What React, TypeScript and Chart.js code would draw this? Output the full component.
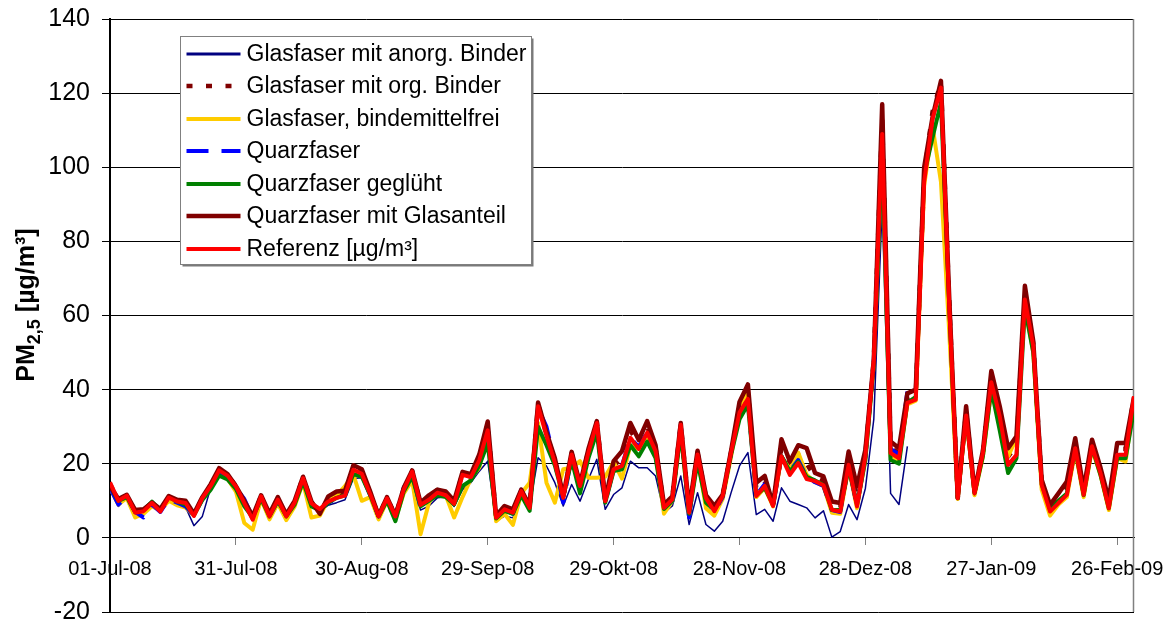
import React, { useEffect, useRef } from 'react';
import { Chart, registerables } from 'chart.js';

Chart.register(...registerables);

// ---------- data ----------
const STEP_DAYS = 2; // one sample every second day, starting 01-Jul-08
const X_MAX_DAYS = 244;
const TICK_DAYS = [0, 30, 60, 90, 120, 150, 180, 210, 240];
const TICK_LABELS = ['01-Jul-08', '31-Jul-08', '30-Aug-08', '29-Sep-08', '29-Okt-08', '28-Nov-08', '28-Dez-08', '27-Jan-09', '26-Feb-09'];
const Y_MIN = -20;
const Y_MAX = 140;
const Y_STEP = 20;

const SERIES_NAMES = [
  'Glasfaser mit anorg. Binder',
  'Glasfaser mit org. Binder',
  'Glasfaser, bindemittelfrei',
  'Quarzfaser',
  'Quarzfaser geglüht',
  'Quarzfaser mit Glasanteil',
  'Referenz [µg/m³]',
];

const anorgBinder: (number | null)[] = [
  13, 8.5, 11, 6.5, 6.5, 8.8, 7, 10.3, 9.2, 8.3,
  3.3, 5.8, 13.5, 17.5, 16.2, 13.5, 10, 5.5, 10.8, 5.5,
  10, 5.5, 9.3, 15.3, 8.8, 7, 8.8, 9.5, 10.3, 16,
  16.2, 11.3, 5.5, 10.5, 5.5, 12.5, 16.5, 7.5, 8.6, 10.8,
  11, 8.5, 13, 14.9, 18, 20.7, 4.5, 5.9, 5.4, 10.8,
  8.6, 21.6, 19.4, 14.9, 8.6, 14.4, 9.9, 15.8, 21.2, 7.7,
  11.7, 13.5, 20.7, 18.9, 18.9, 16.7, 6.8, 8.6, 16.7, 3.6,
  12.2, 3.6, 1.8, 4.5, 12.2, 19.4, 23, 6.3, 7.7, 4.5,
  13.5, 9.9, 9, 8.1, 5.4, 7.3, 0.2, 1.7, 9, 4.9,
  13.4, 32, 89.5, 12, 9, 24.7, null, null, null, null,
  null, null, null, null, null, null, null, null, null, null,
  null, null, null, null, null, null, null, null, null, null,
  null, null, null,
];

const orgBinder: (number | null)[] = [
  14.5, 10.2, 11.5, 7.2, 7.4, 9.5, 7.5, 11.1, 10, 9.7,
  6.2, 10.8, 14.2, 18.5, 17, 14, 9.7, 5.3, 11.3, 6.1,
  10.6, 6, 9.7, 16.3, 9.5, 7, 10.5, 11.6, 12, 19,
  17.9, 12.1, 5.9, 10.8, 5.9, 13.2, 18, 9.2, 10.9, 12.6,
  12, 9.6, 17.4, 16.8, 21.7, 30.2, 5.7, 8.1, 7.2, 12.8,
  8.3, 36, 28, 20.9, 11, 22.8, 14.2, 23.5, 31.2, 10.1,
  19.6, 21.4, 29, 25.2, 30, 24.2, 8.5, 10.8, 30.7, 7.2,
  23, 11.1, 7.9, 11.5, 23.2, 35.2, 39.4, 13.1, 15.3, 8.8,
  24.3, 18.8, 22.6, 20, 16.4, 15.4, 8.7, 8.2, 21.5, 11.2,
  22.9, 48, 113, 24.4, 22.8, 37.7, 38.6, 98, 115, 123,
  63, 10.7, 34.2, 12.2, 23.2, 43.5, 34.1, 21.9, 24.9, 66.1,
  52.3, 15, 8, 10.7, 13.4, 25.5, 12.3, 25.6, 18.2, 9.1,
  24, 24, 38.1,
];

const bindemittelfrei: (number | null)[] = [
  13.5, 9, 10.8, 5.5, 6.5, 8.5, 7.5, 10, 8.8, 8.2,
  6, 10.5, 13.5, 17.5, 16, 12.5, 4, 2.2, 10.5, 5,
  9.3, 4.8, 8.5, 15, 5.5, 6, 10.2, 11.5, 14, 17,
  10, 11, 5, 10, 5, 12, 15.5, 1, 9.5, 13,
  11.5, 5.5, 11, 16, 19, 29, 4.5, 6.5, 3.5, 12,
  14.9, 31, 14.9, 9.5, 18.5, 18.9, 20.7, 16.2, 16.2, 16.5,
  20.5, 16, 25, 24, 27, 23, 6.5, 10, 29, 6,
  22, 8, 6, 10.5, 22, 35, 40, 11, 13.5, 8.5,
  22, 18.5, 23, 17, 15, 14, 6.8, 6.5, 19, 8,
  21.5, 47, 105, 22, 21, 36, 37, 95, 111, 96,
  55, 10.5, 33, 11.5, 22, 40, 31, 22, 27, 63,
  50, 13, 6, 9, 11, 23.5, 11, 24, 17, 7.5,
  21.5, 20.6, 37,
];

const quarzfaser: (number | null)[] = [
  13.5, 9, 11, 7, 5.5, 9, 7, 10.5, 9.5, 8.5,
  6, 10.5, 14, 17.5, 16.5, 13.5, 10.5, 5.5, 11, 6,
  10, 6, 9.5, 16, 9.5, 7.5, 9.5, 10.5, 12.5, 18,
  17, 11.5, 5.8, 10.5, 5.8, 13.5, 17.5, 8, 10.5, 13,
  12, 9.5, 17, 16.5, 21, 28.5, 5.5, 7.5, 6.5, 13,
  8, 35, 30, 20.5, 9.5, 22, 14, 23.5, 30.5, 9.5,
  18.5, 19.5, 27, 24.5, 28.5, 23.5, 8, 10, 30.5, 5.5,
  23, 10.5, 7, 11, 23, 34.5, 37, 11.5, 14.5, 8.5,
  22, 18, 21, 16.5, 15, 14, 7.5, 7, 19.5, 8.5,
  22, 48, 108, 24, 22.5, 39.5, null, null, null, null,
  null, null, null, null, null, null, null, null, null, null,
  null, null, null, null, null, null, null, null, null, null,
  null, null, null,
];

const quarzGeglueht: (number | null)[] = [
  14, 10, 11, 7, 7.5, 9.8, 7.5, 11, 9.8, 9,
  6.2, 10.2, 13, 16.8, 15.8, 13.2, 8.5, 5.5, 10.5, 5.8,
  10, 5.8, 9, 15.2, 8.5, 7.5, 9.5, 10.8, 11.5, 17.2,
  16.5, 11.5, 5.8, 10, 4.5, 12.5, 16.5, 8.5, 10, 11.5,
  11, 9, 14, 15.5, 19.5, 25.5, 5.2, 7.3, 6.5, 11.5,
  7.3, 30, 25, 19.5, 11, 21, 12, 21.5, 28.5, 9.5,
  18, 18.5, 25, 22, 26, 21.5, 7.8, 10, 28.5, 6.5,
  20.5, 9.5, 7.5, 11.3, 22.5, 32, 36, 11.5, 13.5, 9,
  22, 18, 20.5, 16.5, 15.5, 14.3, 7.5, 7.5, 19, 9,
  21, 47, 105, 21, 20, 36.5, 38, 98, 108, 117.5,
  62, 10.7, 33, 12, 22, 40, 29, 17.5, 21.5, 62,
  50, 14.5, 8, 10, 12, 24, 11.5, 24.5, 17, 8,
  21.5, 21.5, 34.6,
];

const quarzGlasanteil: (number | null)[] = [
  14, 10.5, 11.6, 7.5, 7.7, 9.5, 7.8, 11.3, 10.3, 10,
  6.5, 11, 14.5, 18.8, 17.2, 14, 10, 5.8, 11.5, 6.5,
  11, 6.3, 10, 16.5, 9.8, 6.5, 11.2, 12.5, 12.7, 19.6,
  18.5, 12.5, 6, 11, 6, 13.5, 18.2, 9.5, 11.5, 13,
  12.5, 10, 17.8, 17.2, 22.5, 31.4, 6, 8.6, 7.7, 13,
  8.6, 36.5, 28.5, 21.5, 11.3, 23.2, 14.5, 24, 31.5, 10.3,
  20.7, 23.4, 31, 26.4, 31.5, 25, 9, 11.2, 31, 7.7,
  23.5, 11.5, 8.6, 11.7, 23.5, 36.7, 41.4, 14.9, 16.7, 9,
  26.6, 20.6, 25, 24.2, 17.5, 16.6, 9.8, 9.4, 23.3, 13.9,
  23.8, 48, 117, 26, 24.2, 39, 40, 100, 113.5, 123.3,
  64, 10.8, 35.5, 12.5, 23.5, 45, 35.5, 24.2, 27.4, 68,
  53, 15.7, 8.9, 12, 15.2, 26.9, 13, 26.5, 19, 10.3,
  25.6, 25.6, 38,
];

const referenz: (number | null)[] = [
  15, 10, 11.4, 6.8, 7.2, 9.4, 7.1, 10.9, 9.8, 9.4,
  5.9, 10.7, 14, 18.2, 16.8, 13.9, 9.4, 4.9, 11.2, 5.8,
  10.3, 5.8, 9.5, 16.1, 9.3, 7.8, 9.8, 10.8, 11.4, 18.4,
  17.3, 11.8, 5.8, 10.7, 5.8, 13, 17.9, 8.9, 10.3, 12.2,
  11.5, 9.2, 17, 16.4, 21, 29, 5.4, 7.7, 6.8, 12.6,
  8.1, 35.5, 27.5, 20.3, 10.8, 22.5, 14, 23, 31, 9.9,
  18.5, 19.4, 27, 24, 28.4, 23.4, 8.1, 10.4, 30.5, 6.8,
  22.5, 10.8, 7.2, 11.3, 23, 33.8, 37.5, 11.3, 14, 8.6,
  22, 17, 20.2, 15.9, 15.3, 14.2, 7.6, 7.1, 19.7, 8.5,
  22, 48, 109, 22.9, 21.5, 36.4, 37.3, 96, 113, 121.5,
  62, 10.7, 33, 12, 22.9, 42, 32.8, 19.7, 22.4, 64.3,
  51.7, 14.3, 7.1, 9.4, 11.6, 24.2, 11.6, 24.7, 17.5, 8,
  22.4, 22.4, 38.2,
];

const SERIES_VALUES = [anorgBinder, orgBinder, bindemittelfrei, quarzfaser, quarzGeglueht, quarzGlasanteil, referenz];

// ---------- styles ----------
const FONT = '"Liberation Sans", Arial, Helvetica, sans-serif';
const SERIES_STYLE = [
  { color: '#000080', width: 1.5, dash: [] as number[] },
  { color: '#800000', width: 4.5, dash: [6, 13.5] },
  { color: '#FFCC00', width: 4, dash: [] as number[] },
  { color: '#0000FF', width: 4, dash: [22, 13] },
  { color: '#008000', width: 4, dash: [] as number[] },
  { color: '#800000', width: 4.5, dash: [] as number[] },
  { color: '#FF0000', width: 4, dash: [] as number[] },
];

const toPoints = (vals: (number | null)[]) => vals.map((v, i) => ({ x: i * STEP_DAYS, y: v }));

const framePlugin = {
  id: 'frame',
  beforeDatasetsDraw(chart: any) {
    const { ctx, chartArea } = chart;
    ctx.save();
    ctx.strokeStyle = '#808080';
    ctx.lineWidth = 1.5;
    ctx.beginPath();
    ctx.moveTo(Math.round(chartArea.right) - 0.5, chartArea.top);
    ctx.lineTo(Math.round(chartArea.right) - 0.5, chartArea.bottom);
    ctx.stroke();
    ctx.restore();
  },
};

const titlePlugin = {
  id: 'ytitle',
  afterDraw(chart: any) {
    const { ctx } = chart;
    ctx.save();
    ctx.translate(25, 305);
    ctx.rotate(-Math.PI / 2);
    ctx.fillStyle = '#000';
    ctx.textBaseline = 'alphabetic';
    ctx.textAlign = 'left';
    const mainFont = `bold 25px ${FONT}`;
    const subFont = `bold 18px ${FONT}`;
    ctx.font = mainFont;
    const w1 = ctx.measureText('PM').width;
    const w3 = ctx.measureText(' [µg/m³]').width;
    ctx.font = subFont;
    const w2 = ctx.measureText('2,5').width;
    let x = -(w1 + w2 + w3) / 2;
    const base = 9;
    ctx.font = mainFont;
    ctx.fillText('PM', x, base);
    x += w1;
    ctx.font = subFont;
    ctx.fillText('2,5', x, base + 6);
    x += w2;
    ctx.font = mainFont;
    ctx.fillText(' [µg/m³]', x, base);
    ctx.restore();
  },
};

const legendPlugin = {
  id: 'boxLegend',
  afterDraw(chart: any) {
    const { ctx, chartArea } = chart;
    const bx = chartArea.left + 70.5;
    const by = chartArea.top + 17.5;
    const bw = 351;
    const bh = 228;
    ctx.save();
    ctx.fillStyle = '#7a7a7a';
    ctx.fillRect(bx + 2, by + 2, bw, bh);
    ctx.fillStyle = '#ffffff';
    ctx.fillRect(bx, by, bw, bh);
    ctx.strokeStyle = '#808080';
    ctx.lineWidth = 1;
    ctx.strokeRect(bx, by, bw, bh);
    ctx.font = `23px ${FONT}`;
    ctx.textBaseline = 'middle';
    ctx.textAlign = 'left';
    chart.data.datasets.forEach((ds: any, i: number) => {
      const y = Math.round(by + 17 + i * 32.5);
      ctx.strokeStyle = ds.borderColor;
      ctx.lineWidth = Math.max(ds.borderWidth, 3);
      ctx.setLineDash(ds.borderDash || []);
      ctx.lineCap = 'butt';
      ctx.beginPath();
      ctx.moveTo(bx + 6, y);
      ctx.lineTo(bx + 60, y);
      ctx.stroke();
      ctx.setLineDash([]);
      ctx.fillStyle = '#000';
      ctx.fillText(ds.label, bx + 66, y + 1);
    });
    ctx.restore();
  },
};

export default function App() {
  const canvasRef = useRef<HTMLCanvasElement | null>(null);

  useEffect(() => {
    document.body.style.margin = '0';
    const canvas = canvasRef.current;
    if (!canvas) return;
    Chart.defaults.font.family = FONT;
    const n = SERIES_VALUES.length;
    const chart = new Chart(canvas, {
      type: 'line',
      data: {
        datasets: SERIES_VALUES.map((vals, i) => ({
          label: SERIES_NAMES[i],
          data: toPoints(vals),
          borderColor: SERIES_STYLE[i].color,
          backgroundColor: SERIES_STYLE[i].color,
          borderWidth: SERIES_STYLE[i].width,
          borderDash: SERIES_STYLE[i].dash,
          pointRadius: 0,
          tension: 0,
          fill: false,
          spanGaps: false,
          order: n - 1 - i,
        })),
      },
      options: {
        responsive: false,
        animation: false,
        events: [],
        layout: { padding: { left: 0, right: 34, top: 19, bottom: 9 } },
        elements: { line: { borderJoinStyle: 'round', borderCapStyle: 'butt' } },
        plugins: { legend: { display: false }, tooltip: { enabled: false }, title: { display: false } },
        scales: {
          x: {
            type: 'linear',
            position: { y: 0 } as any,
            min: 0,
            max: X_MAX_DAYS,
            afterBuildTicks: (scale: any) => {
              scale.ticks = TICK_DAYS.map((v) => ({ value: v }));
            },
            afterFit: (scale: any) => {
              scale.paddingLeft = 0;
              scale.paddingRight = 0;
            },
            ticks: {
              autoSkip: false,
              maxRotation: 0,
              minRotation: 0,
              padding: 13,
              color: '#000',
              font: { size: 20, family: FONT },
              callback: (_v: any, idx: number) => TICK_LABELS[idx] ?? '',
            },
            grid: { drawOnChartArea: false, drawTicks: true, tickLength: 7, color: '#808080', lineWidth: 1 },
            border: { display: true, color: '#000', width: 1 },
          },
          y: {
            type: 'linear',
            position: 'left',
            min: Y_MIN,
            max: Y_MAX,
            afterFit: (scale: any) => {
              scale.width = 110;
              scale.paddingTop = 0;
              scale.paddingBottom = 0;
            },
            ticks: {
              stepSize: Y_STEP,
              padding: 12,
              color: '#000',
              font: { size: 25, family: FONT },
            },
            grid: { color: '#000', lineWidth: 1, drawTicks: true, tickLength: 8, tickColor: '#000' },
            border: { display: true, color: '#000', width: 2 },
          },
        },
      },
      plugins: [framePlugin, titlePlugin, legendPlugin],
    });
    return () => chart.destroy();
  }, []);

  return (
    <div style={{ width: 1168, height: 621, background: '#fff' }}>
      <canvas ref={canvasRef} width={1168} height={621} style={{ display: 'block', width: 1168, height: 621 }} />
    </div>
  );
}
